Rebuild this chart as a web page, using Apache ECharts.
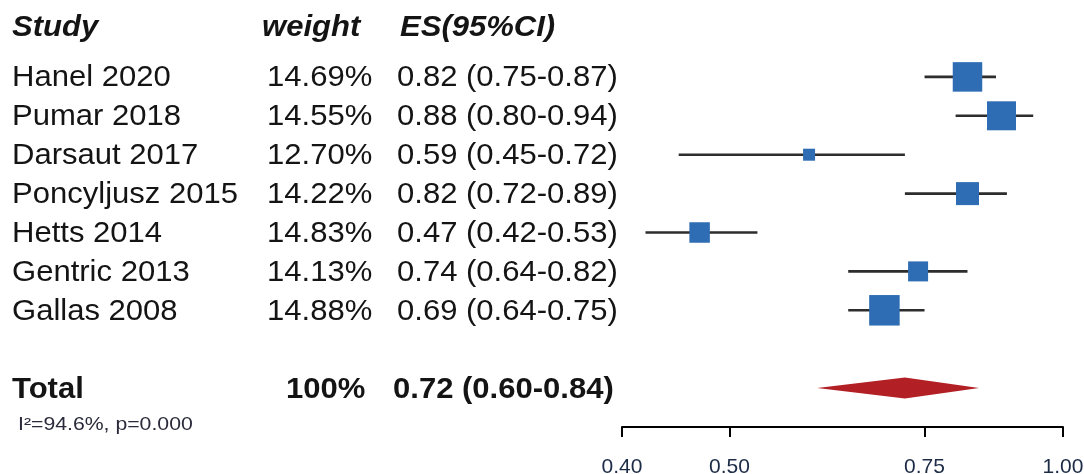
<!DOCTYPE html>
<html>
<head>
<meta charset="utf-8">
<script src="https://cdn.jsdelivr.net/npm/echarts@6/dist/echarts.min.js"></script>
<style>
  html, body { margin: 0; padding: 0; background: #fff; }
  #chart { width: 1084px; height: 474px; }
</style>
</head>
<body>
<div id="chart"></div>
<script>
// ---------- data ----------
const studies = ['Hanel 2020', 'Pumar 2018', 'Darsaut 2017', 'Poncyljusz 2015', 'Hetts 2014', 'Gentric 2013', 'Gallas 2008'];
const weights = [14.69, 14.55, 12.70, 14.22, 14.83, 14.13, 14.88];
const es      = [0.82, 0.88, 0.59, 0.82, 0.47, 0.74, 0.69];
const ciLow   = [0.75, 0.80, 0.45, 0.72, 0.42, 0.64, 0.64];
const ciHigh  = [0.87, 0.94, 0.72, 0.89, 0.53, 0.82, 0.75];
const totalLabel = 'Total';
const totalWeight = '100%';
const totalES = [0.72, 0.60, 0.84]; // estimate, low, high
const heterogeneity = 'I\u00B2=94.6%, p=0.000';
const headers = ['Study', 'weight', 'ES(95%CI)'];
const xTicks = [0.40, 0.50, 0.75, 1.00];

// ---------- style ----------
const FONT = 'Liberation Sans, Arial, sans-serif';
const TXT = '#141414';
const BOX_COLOR = '#2E6DB4';
const LINE_COLOR = '#2d2d2d';
const DIAMOND_COLOR = '#B21F24';
const BOX_PX = [29.5, 29, 12, 23, 20.5, 20, 30.5];
const SX = 1.07;
const COL_X = { study: 12, weight: 267, es: 397 };
const TOTAL_X = { study: 12, weight: 286, es: 393 };

const fmt = v => v.toFixed(2);
const ciText = (e, l, h) => `${fmt(e)} (${fmt(l)}-${fmt(h)})`;

function txt(x, y, text, opts) {
  return {
    type: 'text', x: x, y: y, scaleX: opts.scaleX || SX, silent: true,
    style: {
      text: text, x: 0, y: 0,
      fontSize: opts.size || 29, fontFamily: FONT,
      fontWeight: opts.weight || 'normal', fontStyle: opts.style || 'normal',
      fill: opts.fill || TXT, align: 'left', verticalAlign: 'middle'
    }
  };
}

const studyData = studies.map((s, i) => [Math.log(ciLow[i]), Math.log(ciHigh[i]), Math.log(es[i]), i]);
const TOTAL_ROW = studies.length + 1;
const totalData = [[Math.log(totalES[1]), Math.log(totalES[2]), Math.log(totalES[0]), TOTAL_ROW]];

const chart = echarts.init(document.getElementById('chart'), null, { renderer: 'canvas' });

chart.setOption({
  animation: false,
  backgroundColor: '#ffffff',
  grid: { left: 622, right: 21, top: 38, height: 389, containLabel: false, outerBoundsMode: 'none' },
  xAxis: {
    type: 'value',
    position: 'bottom',
    min: Math.log(xTicks[0]),
    max: Math.log(xTicks[xTicks.length - 1]),
    splitLine: { show: false },
    axisLine: { show: true, onZero: false, lineStyle: { color: '#000', width: 2 } },
    axisTick: { show: true, length: 10, lineStyle: { color: '#000', width: 2 },
      customValues: xTicks.map(v => Math.log(v)) },
    axisLabel: {
      show: true, margin: 30, fontSize: 21, fontFamily: FONT, color: '#1c2b46',
      customValues: xTicks.map(v => Math.log(v)),
      formatter: v => fmt(Math.exp(v))
    }
  },
  yAxis: {
    type: 'value', inverse: true, min: -1, max: 9,
    show: false
  },
  graphic: [
    txt(COL_X.study, 28, headers[0], { weight: 'bold', style: 'italic' }),
    txt(262, 28, headers[1], { weight: 'bold', style: 'italic' }),
    txt(400, 28, headers[2], { weight: 'bold', style: 'italic' }),
    txt(18, 425, heterogeneity, { size: 18, scaleX: 1.18, fill: '#2a2a3a' })
  ],
  series: [
    {
      type: 'custom',
      data: studyData,
      clip: false,
      silent: true,
      encode: { x: [0, 1, 2], y: 3 },
      renderItem: function (params, api) {
        const i = api.value(3);
        const pLo = api.coord([api.value(0), i]);
        const pHi = api.coord([api.value(1), i]);
        const pEs = api.coord([api.value(2), i]);
        const s = BOX_PX[i];
        const yT = pEs[1] + 1.5;
        return {
          type: 'group',
          children: [
            { type: 'line', shape: { x1: pLo[0], y1: pLo[1], x2: pHi[0], y2: pHi[1] },
              style: { stroke: LINE_COLOR, lineWidth: 2.6 } },
            { type: 'rect', shape: { x: pEs[0] - s / 2, y: pEs[1] - s / 2, width: s, height: s },
              style: { fill: BOX_COLOR } },
            txt(COL_X.study, yT, studies[i], {}),
            txt(COL_X.weight, yT, weights[i].toFixed(2) + '%', {}),
            txt(COL_X.es, yT, ciText(es[i], ciLow[i], ciHigh[i]), {})
          ]
        };
      }
    },
    {
      type: 'custom',
      data: totalData,
      clip: false,
      silent: true,
      encode: { x: [0, 1, 2], y: 3 },
      renderItem: function (params, api) {
        const r = api.value(3);
        const pLo = api.coord([api.value(0), r]);
        const pHi = api.coord([api.value(1), r]);
        const pEs = api.coord([api.value(2), r]);
        const h = 10.5;
        const yT = pEs[1] + 1.5;
        return {
          type: 'group',
          children: [
            { type: 'polygon',
              shape: { points: [[pLo[0], pLo[1]], [pEs[0], pEs[1] - h], [pHi[0], pHi[1]], [pEs[0], pEs[1] + h]] },
              style: { fill: DIAMOND_COLOR } },
            txt(TOTAL_X.study, yT, totalLabel, { weight: 'bold' }),
            txt(TOTAL_X.weight, yT, totalWeight, { weight: 'bold' }),
            txt(TOTAL_X.es, yT, ciText(totalES[0], totalES[1], totalES[2]), { weight: 'bold' })
          ]
        };
      }
    }
  ]
});
</script>
</body>
</html>
